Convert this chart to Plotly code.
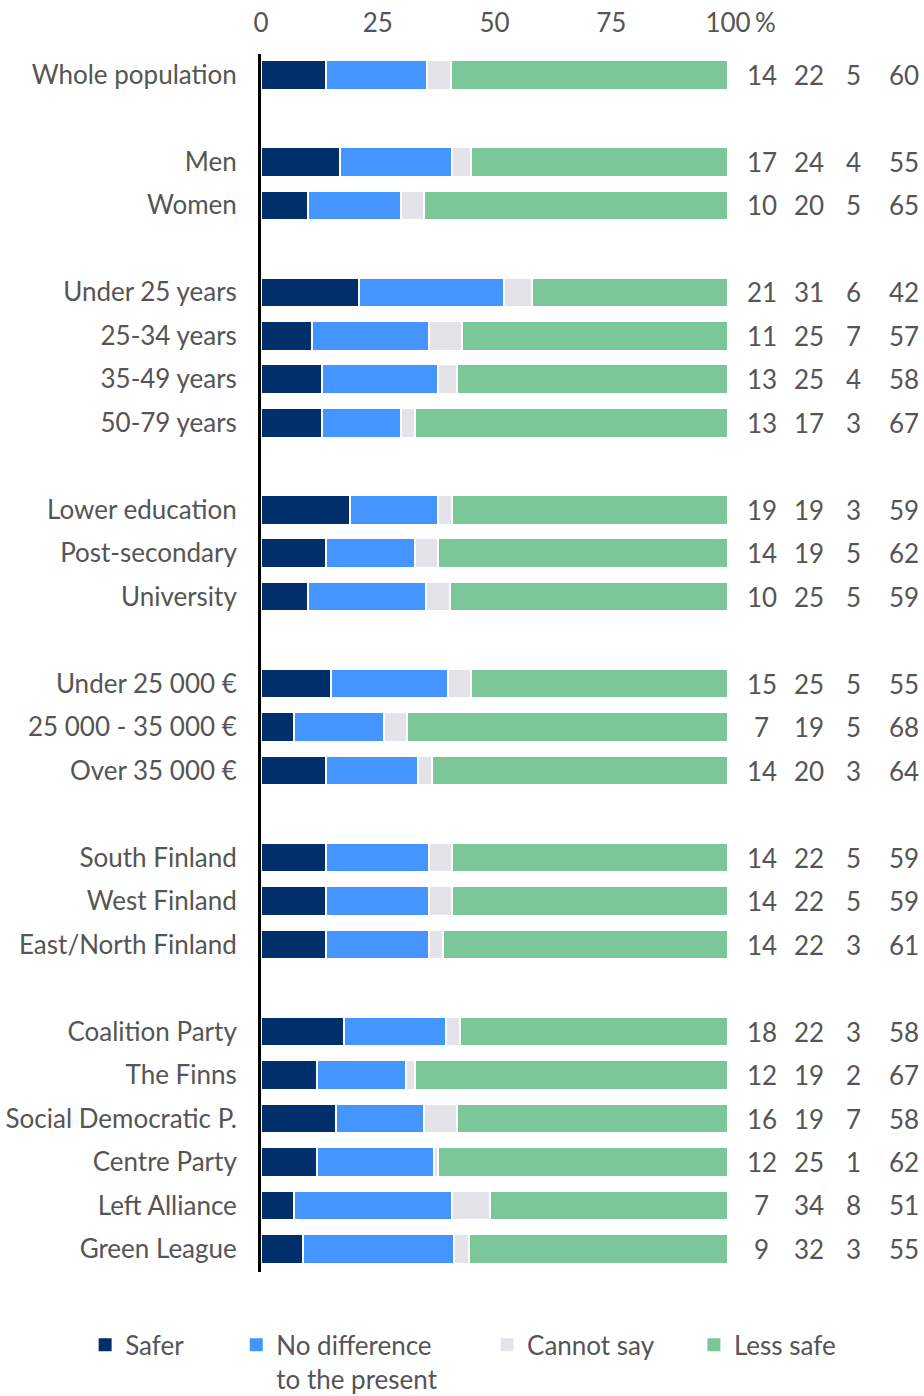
import plotly.graph_objects as go

# ---- data ----
groups = [
    ["Whole population"],
    ["Men", "Women"],
    ["Under 25 years", "25-34 years", "35-49 years", "50-79 years"],
    ["Lower education", "Post-secondary", "University"],
    ["Under 25 000 €", "25 000 - 35 000 €", "Over 35 000 €"],
    ["South Finland", "West Finland", "East/North Finland"],
    ["Coalition Party", "The Finns", "Social Democratic P.", "Centre Party",
     "Left Alliance", "Green League"],
]
safer = [14, 17, 10, 21, 11, 13, 13, 19, 14, 10, 15, 7, 14, 14, 14, 14, 18, 12, 16, 12, 7, 9]
no_difference = [22, 24, 20, 31, 25, 25, 17, 19, 19, 25, 25, 19, 20, 22, 22, 22, 22, 19, 19, 25, 34, 32]
cannot_say = [5, 4, 5, 6, 7, 4, 3, 3, 5, 5, 5, 5, 3, 5, 5, 3, 3, 2, 7, 1, 8, 3]
less_safe = [60, 55, 65, 42, 57, 58, 67, 59, 62, 59, 55, 68, 64, 59, 59, 61, 58, 67, 58, 62, 51, 55]

series_names = ["Safer", "No difference<br>to the present", "Cannot say", "Less safe"]
series_values = [safer, no_difference, cannot_say, less_safe]
colors = ["#002f6c", "#4495ff", "#e5e3ea", "#7bc799"]
x_ticks = [0, 25, 50, 75, 100]
x_ticktext = ["0", "25", "50", "75", "100"]

# ---- layout helpers ----
categories, ypos = [], []
row = 0
for g in groups:
    for c in g:
        categories.append(c)
        ypos.append(row)
        row += 1
    row += 1  # blank row between groups
last_row = ypos[-1]

totals = [sum(v) for v in zip(*series_values)]

TXT = "#555555"
FONT = "Lato"
FS = 26

fig = go.Figure()
legend_ids = ["legend", "legend2", "legend3", "legend4"]
for name, vals, col, lg in zip(series_names, series_values, colors, legend_ids):
    shares = [v / t * 100 for v, t in zip(vals, totals)]
    fig.add_trace(go.Bar(
        y=ypos, x=shares, orientation="h", name=name,
        marker=dict(color=col, line=dict(color="white", width=2.5)),
        width=0.68, showlegend=False, hoverinfo="skip",
    ))
    # legend-only entry with a plain square symbol
    fig.add_trace(go.Scatter(
        x=[None], y=[None], mode="markers", name=name, legend=lg,
        marker=dict(symbol="square", size=13, color=col),
        hoverinfo="skip",
    ))

annotations = []
col_x = [1.0728, 1.1734, 1.2698, 1.3769]
for i, y in enumerate(ypos):
    for cx, vals in zip(col_x, series_values):
        annotations.append(dict(
            x=cx, xref="paper", y=y, yref="y", text=str(vals[i]),
            showarrow=False, xanchor="center", yanchor="middle",
            font=dict(family=FONT, size=FS, color=TXT),
        ))
annotations.append(dict(
    x=100, xref="x", y=1, yref="paper", yanchor="middle", yshift=32,
    xanchor="left", xshift=25, text="%", showarrow=False,
    font=dict(family=FONT, size=FS, color=TXT),
))

legend_x = [-0.3766, -0.053, 0.484, 0.927]
legend_layout = {}
for lg, lx in zip(legend_ids, legend_x):
    legend_layout[lg] = dict(
        x=lx, y=-0.0405, xanchor="left", yanchor="top", orientation="h",
        font=dict(family=FONT, size=FS, color=TXT), valign="top",
        bgcolor="rgba(0,0,0,0)", itemclick=False, itemdoubleclick=False,
        tracegroupgap=0,
    )

fig.update_layout(
    width=924, height=1396,
    margin=dict(l=261, r=196, t=54, b=124, autoexpand=False),
    paper_bgcolor="white", plot_bgcolor="white",
    barmode="stack", bargap=0,
    showlegend=True,
    annotations=annotations,
    font=dict(family=FONT, size=FS, color=TXT),
    **legend_layout,
)
fig.update_xaxes(
    range=[0, 100], side="top", tickvals=x_ticks, ticktext=x_ticktext,
    showgrid=False, zeroline=False, showline=False, ticks="",
    ticklabelstandoff=16,
    tickfont=dict(family=FONT, size=FS, color=TXT), fixedrange=True,
)
fig.update_yaxes(
    range=[last_row + 0.53, -0.48], tickvals=ypos, ticktext=categories,
    showgrid=False, zeroline=False, showline=True, linecolor="black",
    linewidth=3, ticks="", ticklabelstandoff=16, layer="above traces",
    tickfont=dict(family=FONT, size=FS, color=TXT), fixedrange=True,
)

fig.write_html("out.html", config={"displayModeBar": False},
               post_script="document.body.style.margin='0px';")
